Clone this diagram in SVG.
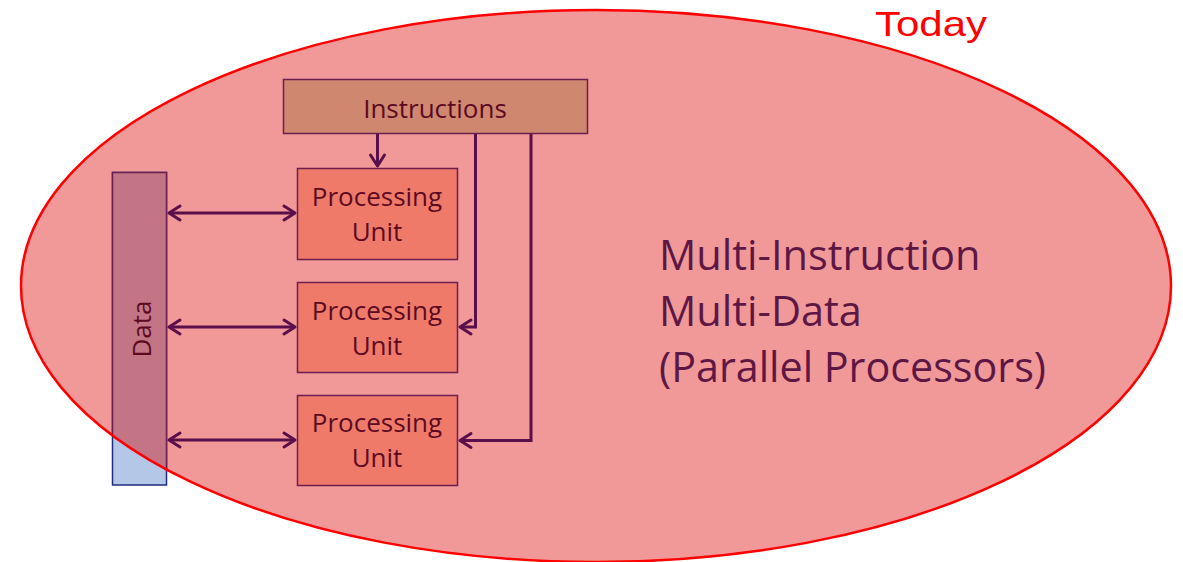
<svg xmlns="http://www.w3.org/2000/svg" width="1183" height="562" viewBox="0 0 1183 562">
<style>
  .box { stroke: #6B1F4F; stroke-width: 1.5; }
  .pu { fill: #F07A6A; }
  .lbl { font-family: "Open Sans", "Noto Sans", sans-serif; font-size: 26px; fill: #5C0A22; text-anchor: middle; }
  .big { font-family: "Open Sans", "Noto Sans", sans-serif; font-size: 41.5px; fill: #5E1744; }
  .conn { fill: none; stroke: #5B0F4A; stroke-width: 3; }
</style>
<defs>
  <clipPath id="ellClip">
    <ellipse cx="596" cy="286" rx="575" ry="276"/>
  </clipPath>
  <marker id="arrE" markerUnits="userSpaceOnUse" markerWidth="24" markerHeight="24" viewBox="-16 -12 24 24" refX="0" refY="0" orient="auto-start-reverse">
    <path d="M-11,-7 L0,0 L-11,7" fill="none" stroke="#5B0F4A" stroke-width="3" stroke-linecap="round" stroke-linejoin="round"/>
  </marker>
</defs>

<g id="today-region">
  <ellipse cx="596" cy="286" rx="575" ry="276" fill="#F19999"/>
</g>

<g id="today-label">
  <text x="875" y="36" font-family="Liberation Sans, Arial, sans-serif" font-size="35" fill="#FF0000" textLength="112" lengthAdjust="spacingAndGlyphs">Today</text>
</g>

<g id="data">
  <rect x="112.5" y="172.5" width="54" height="312.5" fill="#B4C7E7" stroke="#1F2D80" stroke-width="1.5"/>
  <rect x="112.5" y="172.5" width="54" height="312.5" fill="#C47585" stroke="#6B1F4F" stroke-width="1.5" clip-path="url(#ellClip)"/>
  <text class="lbl" transform="translate(151,329) rotate(-90)" x="0" y="0">Data</text>
</g>

<g id="instructions">
  <rect class="box" x="283.5" y="79.5" width="304" height="54" fill="#D0876F"/>
  <text class="lbl" x="435" y="118">Instructions</text>
</g>

<g id="pu1">
  <rect class="box pu" x="297.5" y="168.5" width="160" height="91"/>
  <text class="lbl" x="377" y="206">Processing</text>
  <text class="lbl" x="377" y="241">Unit</text>
</g>

<g id="pu2">
  <rect class="box pu" x="297.5" y="282.5" width="160" height="90"/>
  <text class="lbl" x="377" y="320">Processing</text>
  <text class="lbl" x="377" y="355">Unit</text>
</g>

<g id="pu3">
  <rect class="box pu" x="297.5" y="395.5" width="160" height="90"/>
  <text class="lbl" x="377" y="432">Processing</text>
  <text class="lbl" x="377" y="467">Unit</text>
</g>

<g id="mimd-label">
  <text class="big" x="659" y="270">Multi-Instruction</text>
  <text class="big" x="659" y="326">Multi-Data</text>
  <text class="big" x="659" y="382" textLength="387" lengthAdjust="spacingAndGlyphs">(Parallel Processors)</text>
</g>

<g id="connectors">
  <line class="conn" x1="169" y1="213" x2="295" y2="213" marker-start="url(#arrE)" marker-end="url(#arrE)"/>
  <line class="conn" x1="169" y1="327" x2="295" y2="327" marker-start="url(#arrE)" marker-end="url(#arrE)"/>
  <line class="conn" x1="169" y1="440" x2="295" y2="440" marker-start="url(#arrE)" marker-end="url(#arrE)"/>
  <line class="conn" x1="377.5" y1="134" x2="377.5" y2="166" marker-end="url(#arrE)"/>
  <polyline class="conn" points="475.5,134 475.5,327 460,327" marker-end="url(#arrE)"/>
  <polyline class="conn" points="531,134 531,440.5 460,440.5" marker-end="url(#arrE)"/>
</g>

<g id="today-outline">
  <ellipse cx="596" cy="286" rx="575" ry="276" fill="none" stroke="#FF0000" stroke-width="2.5"/>
</g>
</svg>
